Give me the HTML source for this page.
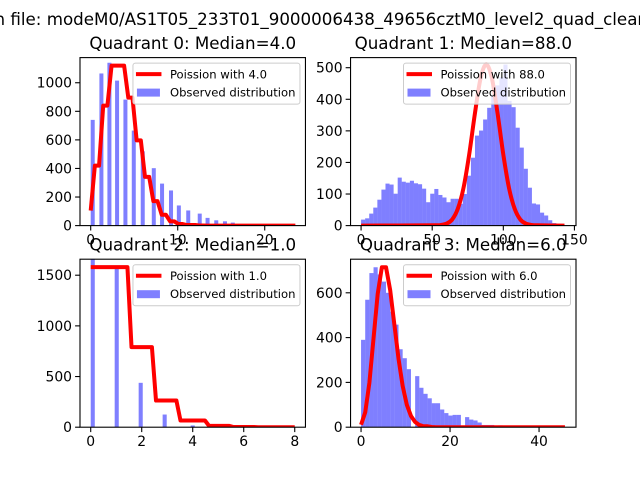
<!DOCTYPE html>
<html><head><meta charset="utf-8"><style>
html,body{margin:0;padding:0;background:#fff;}
svg{display:block;font-family:"DejaVu Sans","Liberation Sans",sans-serif;}
</style></head><body>
<svg id="fig" width="640" height="480" viewBox="0 0 640 480" xmlns="http://www.w3.org/2000/svg">
<rect x="0" y="0" width="640" height="480" fill="#fff"/>
<text x="648" y="25" text-anchor="end" font-size="16.7" fill="#000">n file: modeM0/AS1T05_233T01_9000006438_49656cztM0_level2_quad_clean</text>
</svg>
<script>
// ---- Quadrant 0 data ----
const q0BarX = [0,1,1.92,2.8,3.76,4.72,5.75,7.02,7.97,9.0,9.9,10.98,12.3,13.2,14.2,15.2,16.1,17.1,18.1];
const q0BarY = [740,1065,1140,1015,882,665,520,402,294,246,141,106,84,54,37,30,21,8,4];
const q0Poisson = [105,420,840,1120,1120,896,597,341,171,76,30,11,4,1,0];
const q0XTicks = [0,10,20];
const q0YTicks = [0,200,400,600,800,1000];
// ---- Quadrant 1 data ----
const q1BarY = [19,23,38,57,82,114,133,130,101,152,139,136,142,134,131,117,74,101,116,97,89,74,85,85,69,100,158,215,285,301,336,373,412,444,470,510,395,375,310,247,180,120,70,67,41,32,17,8,3,1];
const q1LineX = [0,52,56,60,64,68,72,76,80,84,88,92,96,100,104,108,112,116,120,124,143];
const q1LineY = [0,1,2,6,19,53,119,225,354,466,510,466,354,225,119,53,19,6,2,1,0];
const q1XTicks = [0,50,100,150];
const q1YTicks = [0,100,200,300,400,500];
// ---- Quadrant 2 data ----
const q2BarX = [0,0.94,1.88,2.82,3.92];
const q2BarY = [1700,1564,438,125,17];
const q2Poisson = [1580,1580,790,263,66,13,2,0,0];
const q2XTicks = [0,2,4,6,8];
const q2YTicks = [0,500,1000,1500];
// ---- Quadrant 3 data ----
const q3BarY = [390,569,688,714,682,650,600,516,458,348,308,259,0,228,176,149,129,107,107,79,63,52,55,55,0,45,34,30,21,10,10,10,5,8,3,2,1,1,0,0,0,0,0,0,0,0,0,0,0,0];
const q3Poisson = [11,66,198,397,595,714,714,612,459,306,184,100,50,23,10,4,1];
const q3XTicks = [0,20,40];
const q3YTicks = [0,200,400,600];

const NS = "http://www.w3.org/2000/svg";
const svg = document.getElementById('fig');
function mk(tag, attrs, parent){
  const e = document.createElementNS(NS, tag);
  for (const k in attrs) e.setAttribute(k, attrs[k]);
  (parent||svg).appendChild(e);
  return e;
}

function panel(p){
  const g = mk('g', {});
  
  
  const L=p.L, R=p.R, T=p.T, B=p.B;
  const sx = v => L + (v - p.xlim[0]) / (p.xlim[1]-p.xlim[0]) * (R-L);
  const sy = v => B - (v - p.ylim[0]) / (p.ylim[1]-p.ylim[0]) * (B-T);
  const cp = mk('clipPath', {id: p.id+'clip'}, g);
  mk('rect', {x:L, y:T, width:R-L, height:B-T}, cp);
  const plot = mk('g', {'clip-path':'url(#'+p.id+'clip)'}, g);
  for (let i=0;i<p.barY.length;i++){
    if (p.barY[i] <= 0) continue;
    const x0 = p.barX[i];
    const r = mk('rect', {x:sx(x0), y:sy(p.barY[i]), width:sx(x0+p.barW)-sx(x0), height:sy(0)-sy(p.barY[i]), fill:'#0000ff', 'fill-opacity':0.5}, plot);
    
    
  }
  let d='';
  const px = p.lineX.map(sx), py = p.lineY.map(sy);
  if (p.smooth){
    d = 'M'+px[0]+','+py[0];
    for (let i=0;i<px.length-1;i++){
      const i0=Math.max(0,i-1), i3=Math.min(px.length-1,i+2);
      const c1x=px[i]+(px[i+1]-px[i0])/6, c1y=py[i]+(py[i+1]-py[i0])/6;
      const c2x=px[i+1]-(px[i3]-px[i])/6, c2y=py[i+1]-(py[i3]-py[i])/6;
      d+=' C'+c1x+','+c1y+' '+c2x+','+c2y+' '+px[i+1]+','+py[i+1];
    }
  } else {
    d = px.map((x,i)=>(i?'L':'M')+x+','+py[i]).join(' ');
  }
  const ln = mk('path', {d:d, fill:'none', stroke:'#ff0000', 'stroke-width':4, 'stroke-linejoin':'round'}, plot);
  
  
  const fr = mk('rect', {x:L, y:T, width:R-L, height:B-T, fill:'none', stroke:'#000', 'stroke-width':1.1}, g);
  
  
  p.xTicks.forEach(v=>{
    const x=sx(v);
    mk('line',{x1:x,x2:x,y1:B,y2:B+4.9,stroke:'#000','stroke-width':1.1},g);
    const t=mk('text',{x:x,y:B+19,'text-anchor':'middle','font-size':13.9,fill:'#000'},g);
    t.textContent=String(v);
    
    
  });
  p.yTicks.forEach(v=>{
    const y=sy(v);
    mk('line',{x1:L-4.9,x2:L,y1:y,y2:y,stroke:'#000','stroke-width':1.1},g);
    const t=mk('text',{x:L-8,y:y+5,'text-anchor':'end','font-size':13.9,fill:'#000'},g);
    t.textContent=String(v);
    
    
  });
  const tt=mk('text',{x:(L+R)/2,y:T-8.5,'text-anchor':'middle','font-size':16.7,fill:'#000'},g);
  tt.textContent=p.title;
  
  
  const lg = mk('g',{},g);
  
  
  const lx=R-172.5, ly=T+5.5;
  mk('rect',{x:lx,y:ly,width:167,height:41,rx:2.5,fill:'#fff','fill-opacity':0.8,stroke:'#cccccc','stroke-width':1},lg);
  mk('line',{x1:lx+3,x2:lx+28.5,y1:ly+11,y2:ly+11,stroke:'#ff0000','stroke-width':4},lg);
  const t1=mk('text',{x:lx+37,y:ly+15.2,'font-size':11.6,fill:'#000'},lg);
  t1.textContent=p.label;
  
  
  mk('rect',{x:lx+4,y:ly+25.5,width:23,height:8,fill:'#0000ff','fill-opacity':0.5},lg);
  const t2=mk('text',{x:lx+37,y:ly+33.5,'font-size':11.6,fill:'#000'},lg);
  t2.textContent='Observed distribution';
  
  
}

function stairs(n, w, table, mode){
  const xs=[], ys=[];
  for (let i=0;i<n;i++){
    const x = +(i*w).toFixed(6);
    const k = mode==='round' ? Math.round(x) : Math.ceil(x);
    xs.push(x); ys.push(table[k] !== undefined ? table[k] : 0);
  }
  return [xs, ys];
}

const q0L = stairs(50, 0.48, q0Poisson, 'ceil');
panel({id:'q0', name:'quadrant-0-panel', L:80, R:305.45, T:57.6, B:225.6, xlim:[-1.23,24.68], ylim:[0,1176],
  barX:q0BarX, barY:q0BarY, barW:0.46, lineX:q0L[0], lineY:q0L[1], smooth:false,
  xTicks:q0XTicks, yTicks:q0YTicks, title:'Quadrant 0: Median=4.0', label:'Poission with 4.0'});

const q1BarX = q1BarY.map((v,i)=>i*2.86);
panel({id:'q1', name:'quadrant-1-panel', L:350.55, R:576, T:57.6, B:225.6, xlim:[-7.4,151.1], ylim:[0,532],
  barX:q1BarX, barY:q1BarY, barW:2.86, lineX:q1LineX, lineY:q1LineY, smooth:true,
  xTicks:q1XTicks, yTicks:q1YTicks, title:'Quadrant 1: Median=88.0', label:'Poission with 88.0'});

const q2L = stairs(51, 0.16, q2Poisson, 'round');
panel({id:'q2', name:'quadrant-2-panel', L:80, R:305.45, T:259.2, B:427.2, xlim:[-0.42,8.42], ylim:[0,1658],
  barX:q2BarX, barY:q2BarY, barW:0.16, lineX:q2L[0], lineY:q2L[1], smooth:false,
  xTicks:q2XTicks, yTicks:q2YTicks, title:'Quadrant 2: Median=1.0', label:'Poission with 1.0'});

const q3L = stairs(50, 0.935, q3Poisson, 'ceil');
const q3BarX = q3BarY.map((v,i)=>i*0.935);
panel({id:'q3', name:'quadrant-3-panel', L:350.55, R:576, T:259.2, B:427.2, xlim:[-2.36,48.3], ylim:[0,750],
  barX:q3BarX, barY:q3BarY, barW:0.935, lineX:q3L[0], lineY:q3L[1], smooth:false,
  xTicks:q3XTicks, yTicks:q3YTicks, title:'Quadrant 3: Median=6.0', label:'Poission with 6.0'});
</script>
</body></html>
